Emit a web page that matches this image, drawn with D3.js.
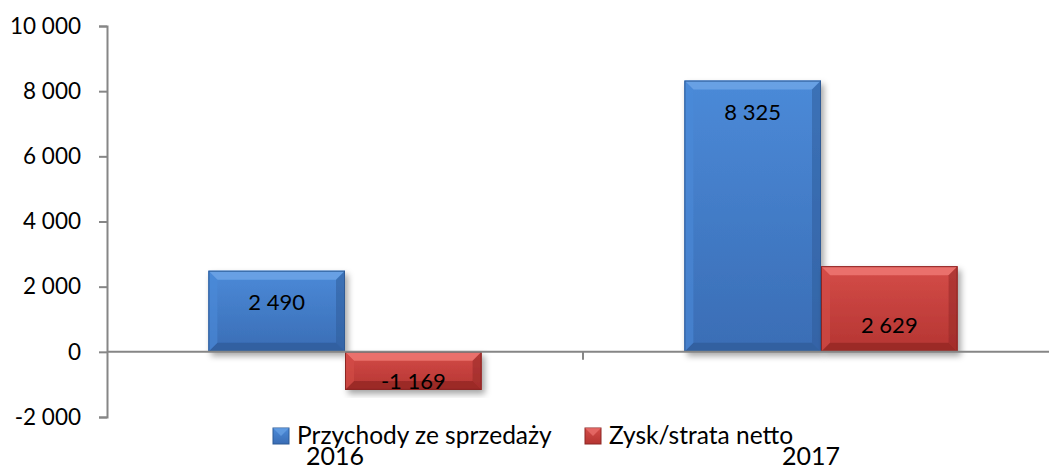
<!DOCTYPE html>
<html>
<head>
<meta charset="utf-8">
<script src="https://cdn.jsdelivr.net/npm/d3@7"></script>
<style>
  body { margin: 0; background: #fff; }
  text { font-family: Lato, "Open Sans", sans-serif; fill: #000; }
</style>
</head>
<body>
<div id="chart"></div>
<script>
// data
var years = ["2016", "2017"];
var seriesNames = ["Przychody ze sprzedaży", "Zysk/strata netto"];
var revenue = [2490, 8325];
var netProfit = [-1169, 2629];
var yTicks = [-2000, 0, 2000, 4000, 6000, 8000, 10000];

var W = 1049, H = 468;
var margin = { top: 26, left: 107, bottom: 51 };
var plotRight = 1059;

var fmt = function (v) {
  var s = Math.abs(v).toString().replace(/\B(?=(\d{3})+(?!\d))/g, " ");
  return (v < 0 ? "-" : "") + s;
};

var svg = d3.select("#chart").append("svg")
  .attr("width", W)
  .attr("height", H);

var defs = svg.append("defs");
var colors = [
  { top: "#4b8ad8", bot: "#3a6db5", light: "#6aa3e6", dark: "#2f5c9b", edge: "#2d5a96" },
  { top: "#d44c48", bot: "#b53532", light: "#ec7470", dark: "#952826", edge: "#8c2624" }
];
colors.forEach(function (c, i) {
  var g = defs.append("linearGradient").attr("id", "grad" + i)
    .attr("x1", 0).attr("y1", 0).attr("x2", 0).attr("y2", 1);
  g.append("stop").attr("offset", "0%").attr("stop-color", c.top);
  g.append("stop").attr("offset", "100%").attr("stop-color", c.bot);
});
var f = defs.append("filter").attr("id", "shadow")
  .attr("x", "-10%").attr("y", "-10%").attr("width", "130%").attr("height", "130%");
f.append("feDropShadow").attr("dx", 3).attr("dy", 4).attr("stdDeviation", 3)
  .attr("flood-color", "#000").attr("flood-opacity", 0.35);

var y = d3.scaleLinear()
  .domain([-2000, 10000])
  .range([H - margin.bottom, margin.top]);

var x = d3.scaleBand()
  .domain(years)
  .range([margin.left, plotRight])
  .padding(0);

var groupW = x.bandwidth() * 0.574;
var xs = d3.scaleBand()
  .domain([0, 1])
  .range([(x.bandwidth() - groupW) / 2, (x.bandwidth() + groupW) / 2]);

var rows = [];
years.forEach(function (yr, i) {
  rows.push({ year: yr, s: 0, v: revenue[i] });
  rows.push({ year: yr, s: 1, v: netProfit[i] });
});

// bars
var bars = svg.append("g").selectAll("g.bar")
  .data(rows)
  .enter().append("g")
  .attr("class", "bar")
  .attr("filter", "url(#shadow)");

bars.each(function (d) {
  var g = d3.select(this);
  var x0 = x(d.year) + xs(d.s), w = xs.bandwidth();
  var y0 = y(Math.max(0, d.v)), y1 = y(Math.min(0, d.v));
  var h = y1 - y0, b = Math.min(9, h / 3);
  var c = colors[d.s];
  g.append("rect").attr("x", x0).attr("y", y0).attr("width", w).attr("height", h)
    .attr("fill", "url(#grad" + d.s + ")");
  // bevel edges
  var poly = function (pts, fill, op) {
    g.append("polygon").attr("points", pts.map(function (p) { return p.join(","); }).join(" "))
      .attr("fill", fill).attr("opacity", op);
  };
  poly([[x0, y0], [x0 + w, y0], [x0 + w - b, y0 + b], [x0 + b, y0 + b]], c.light, 0.9);
  poly([[x0, y1], [x0 + w, y1], [x0 + w - b, y1 - b], [x0 + b, y1 - b]], c.dark, 0.8);
  poly([[x0, y0], [x0 + b, y0 + b], [x0 + b, y1 - b], [x0, y1]], c.top, 0.6);
  poly([[x0 + w, y0], [x0 + w - b, y0 + b], [x0 + w - b, y1 - b], [x0 + w, y1]], c.dark, 0.55);
  g.append("rect").attr("x", x0 + 0.5).attr("y", y0 + 0.5).attr("width", w - 1).attr("height", h - 1)
    .attr("fill", "none").attr("stroke", c.edge).attr("stroke-width", 1);
});

// axes
var axisColor = "#868686";
var yAxis = svg.append("g")
  .attr("transform", "translate(" + margin.left + ",0)")
  .call(d3.axisLeft(y).tickValues(yTicks).tickFormat(fmt).tickSize(8).tickPadding(18));
yAxis.select(".domain").attr("stroke", axisColor).attr("stroke-width", 2);
yAxis.selectAll(".tick line").attr("stroke", axisColor).attr("stroke-width", 2);
yAxis.selectAll(".tick text")
  .style("font-family", "Lato, sans-serif").style("font-size", "22.5px");

var xAxisG = svg.append("g");
xAxisG.append("line")
  .attr("x1", margin.left).attr("x2", plotRight)
  .attr("y1", y(0)).attr("y2", y(0))
  .attr("stroke", axisColor).attr("stroke-width", 2);
xAxisG.selectAll("line.tick")
  .data(x.domain().slice(1))
  .enter().append("line")
  .attr("class", "tick")
  .attr("x1", function (d) { return x(d); }).attr("x2", function (d) { return x(d); })
  .attr("y1", y(0)).attr("y2", y(0) + 8)
  .attr("stroke", axisColor).attr("stroke-width", 2);

// value labels: revenue inside end, profit inside base
svg.append("g").selectAll("text")
  .data(rows)
  .enter().append("text")
  .attr("x", function (d) { return x(d.year) + xs(d.s) + xs.bandwidth() / 2; })
  .attr("y", function (d) {
    if (d.s === 0) return y(d.v) + 31;
    return d.v >= 0 ? y(0) - 27 : y(0) + 29;
  })
  .attr("text-anchor", "middle")
  .attr("dominant-baseline", "central")
  .style("font-size", "22px")
  .text(function (d) { return fmt(d.v); });

// category labels
svg.append("g").selectAll("text")
  .data(years)
  .enter().append("text")
  .attr("x", function (d) { return x(d) + x.bandwidth() / 2 - 10; })
  .attr("y", 465)
  .attr("text-anchor", "middle")
  .style("font-size", "25px")
  .text(function (d) { return d; });

// legend
var legendX = [273, 585];
var leg = svg.append("g").selectAll("g")
  .data(seriesNames)
  .enter().append("g")
  .attr("transform", function (d, i) { return "translate(" + legendX[i] + ",428)"; });
leg.append("rect").attr("width", 16).attr("height", 16)
  .attr("fill", function (d, i) { return "url(#grad" + i + ")"; })
  .attr("stroke", function (d, i) { return colors[i].edge; });
leg.append("polygon")
  .attr("points", "0,0 16,0 8,8")
  .attr("fill", function (d, i) { return colors[i].light; })
  .attr("opacity", 0.7);
leg.append("text")
  .attr("x", 24).attr("y", 16)
  .style("font-size", "24.5px")
  .text(function (d) { return d; });
</script>
</body>
</html>
